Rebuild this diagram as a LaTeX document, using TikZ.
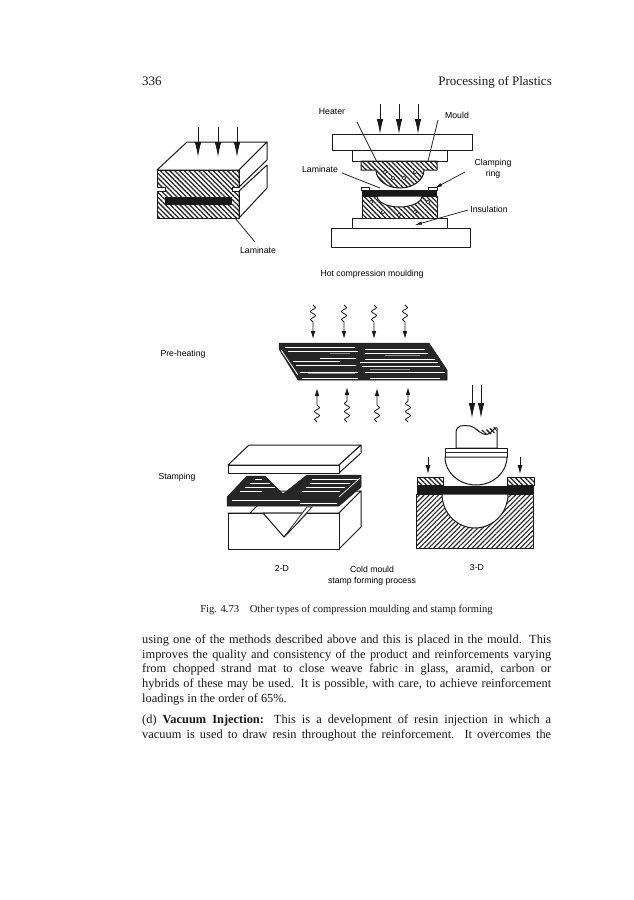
\documentclass[tikz,border=0pt]{standalone}
\usepackage{fontspec}
\setmainfont{Liberation Serif}
\newfontfamily\lab{Liberation Sans}
\usetikzlibrary{patterns,patterns.meta,arrows.meta,decorations.pathmorphing}
\newcommand{\jline}[1]{\makebox[409pt][s]{#1}}
\tikzset{
  x=1pt,y=-1pt,
  lbl/.style={font=\lab\fontsize{8.7}{10}\selectfont,text=black,inner sep=0,align=center},
  body/.style={font=\fontsize{12.4}{12}\selectfont,inner sep=0,anchor=base west,text=black!90},
  ln/.style={line width=0.8pt,black!85},
  box/.style={draw=black!90,line width=1pt,fill=white,line join=round},
  hat/.style={pattern={Lines[angle=135,distance=3.4pt,line width=1.3pt]},pattern color=black!85},
  hatb/.style={pattern={Lines[angle=45,distance=3.4pt,line width=1.1pt]},pattern color=black!85},
  bigar/.style={line width=0.8pt,-{Latex[length=15pt,width=6.5pt]},black!90},
  midar/.style={line width=0.8pt,-{Latex[length=9pt,width=5pt]},black!90},
  thinar/.style={line width=0.7pt,-{Latex[length=7pt,width=3.5pt]},black!90},
  wav/.style={line width=0.8pt,black!90,-{Latex[length=8pt,width=4.5pt]},decorate,decoration={snake,segment length=8pt,amplitude=2.5pt,post length=14pt}},
  pl/.style={fill=black!85,draw=black!90,line width=0.5pt},
  stripe/.style={draw=white,line width=0.4pt},
  gstripe/.style={draw=black!45,line width=0.6pt}
}
\begin{document}
\begin{tikzpicture}
\useasboundingbox (0,0) rectangle (634,900);
\fill[white] (0,0) rectangle (634,900);
% header
\node[body,font=\fontsize{13}{13}\selectfont] (pg) at (142,85) {336};
\node[body,anchor=base east,font=\fontsize{13}{13}\selectfont] (ttl) at (552,85) {Processing of Plastics};
% LEFT BLOCK
\draw[box] (157,170)--(187,142)--(267,142)--(239,170)--cycle;
\draw[box] (239,170)--(267,142)--(267,160)--(239,187)--cycle;
\draw[box] (239,191)--(267,165)--(267,188)--(239,218)--cycle;
\draw[box,hat] (157,170)--(239,170)--(239,187)--(232,187)--(232,191)--(239,191)--(239,218)--(157,218)--(157,191)--(165,191)--(165,187)--(157,187)--cycle;
\fill[black!90] (165,197) rectangle (232,205);
\foreach \x in {198,218,237}{\draw[bigar] (\x,127)--(\x,157);}
\node[lbl] (lam1) at (258,250) {Laminate};
\coordinate (lam1a) at (235,218);
\draw[ln] (lam1a)--(255,242);
% HOT COMPRESSION
\foreach \x in {380,399,418}{\draw[bigar] (\x,104)--(\x,134);}
\draw[box] (332,134) rectangle (472,150);
\draw[box] (352,150) rectangle (447,161);
\draw[box,hat] (361,161)--(437,161)--(437,170)--(424,170) arc[start angle=0,end angle=180,x radius=24,y radius=18] --(361,170)--cycle;
\foreach \a/\b in {385/172,393/178,404/178,415/172}{\draw[fill=white,line width=.5pt] (\a,\b) circle (1.8);}
\draw[box,hat] (362,196) rectangle (437,218);
\draw[box] (377,196) arc[start angle=180,end angle=0,x radius=22.5,y radius=11] --cycle;
\foreach \a/\b in {371/202,383/212,399/215,415/212,428/202}{\draw[fill=white,line width=.5pt] (\a,\b) circle (1.8);}
\fill[black!90] (362,190) rectangle (437,196);
\draw[box,line width=.7pt] (361,187) rectangle (369,190);
\draw[box,line width=.7pt] (428,187) rectangle (437,190);
\draw[box] (352,218) rectangle (447,228);
\draw[box] (331,228) rectangle (470,247);
\node[lbl] (heater) at (332,112) {Heater};
\node[lbl] (mould) at (457,115) {Mould};
\node[lbl] (lam2) at (320,169) {Laminate};
\node[lbl] (clamp) at (493,169) {Clamping\\[1pt]ring};
\node[lbl] (ins) at (489,209) {Insulation};
\node[lbl] (hcm) at (372,274) {Hot compression moulding};
\coordinate (ha) at (357,122); \coordinate (hb) at (377,162);
\coordinate (ma) at (438,120); \coordinate (mb) at (428,161);
\coordinate (lb) at (380,188); \coordinate (la) at (342,173);
\draw[ln] (ha)--(hb);
\draw[ln] (ma)--(mb);
\draw[ln] (la)--(lb);
\coordinate (ca) at (465,172); \coordinate (cb) at (435,188);
\coordinate (ia) at (468,210); \coordinate (ib) at (415,225);
\draw[thinar] (ca)--(cb);
\draw[thinar] (ia)--(ib);
% PRE-HEATING
\node[lbl] (ph) at (183,354) {Pre-heating};
\draw[pl] (279,343)--(429,343)--(447,370)--(447,380)--(298,380)--(279,349)--cycle;
\draw[white,line width=.8pt] (281,350)--(298,375);
\foreach \a/\b/\y in {285/355/347,365/425/349,288/358/351,365/428/353,320/356/358,365/435/359,293/340/361,360/438/362,296/356/365,362/440/366,300/358/372,365/445/372,302/358/378,370/440/378}{\draw[stripe] (\a,\y)--(\b,\y);}
\foreach \a/\b/\y in {330/350/353,385/420/355,370/410/369,308/355/373}{\draw[gstripe] (\a,\y)--(\b,\y);}
\foreach \x in {313,344,374,405}{\draw[wav] (\x,305)--(\x,339);}
\foreach \x/\e in {317/388,347/387,377/388,408/387}{\draw[wav] (\x,422)--(\x,\e);}
% STAMPING 2-D
\node[lbl] (st) at (177,477) {Stamping};
\draw[box] (228,513)--(250,513)--(272,491)--(361,491)--(339,513)--cycle;
\draw[box] (339,513)--(361,491)--(361,527)--(339,549)--cycle;
\draw[box] (228,513) rectangle (339,549);
\draw[box] (263,513)--(284,537)--(307,513)--cycle;
\draw[ln,fill=white] (284,537)--(307,507)--(312,507)--(291,530)--cycle;
\draw[pl] (227,497)--(247,476)--(265,476)--(283,494)--(307,475)--(361,475)--(361,487)--(339,506)--(227,506)--cycle;
\foreach \a/\b/\y in {255/262/479,250/270/483,245/275/487,240/262/491,312/358/479,310/350/483,306/345/487,302/340/491,232/300/500,300/337/503}{\draw[stripe] (\a,\y)--(\b,\y);}
\draw[white,line width=.6pt] (339,497)--(360,478);
\draw[box] (228,465)--(249,445)--(361,445)--(339,465)--cycle;
\draw[box] (339,465)--(361,445)--(361,453)--(339,473)--cycle;
\draw[box] (228,465) rectangle (339,473);
\node[lbl] (twod) at (282,568) {2-D};
\node[lbl] (cold) at (372,576) {Cold mould\\[1pt]stamp forming process};
% 3-D
\draw[bigar] (472,385)--(472,418);
\draw[bigar] (481,385)--(481,418);
\draw[box] (456,448)--(456,432) .. controls (457,425) and (462,425) .. (470,426) .. controls (478,428) and (480,436) .. (488,434) .. controls (492,433) and (495,426) .. (497,428)--(497,448)--cycle;
\fill[hat] (477,429) .. controls (482,432) and (490,428) .. (495,427) -- (497,431) .. controls (492,436) and (483,437) .. (477,429);
\draw[box] (445,448) rectangle (507,457);
\draw[ln] (445,452)--(507,452);
\draw[box] (445,457) arc[start angle=180,end angle=0,x radius=31,y radius=28] --cycle;
\draw[midar] (428,457)--(428,474);
\draw[midar] (520,457)--(520,474);
\draw[box,hat] (417,477) rectangle (443,485);
\draw[box,hat] (507,477) rectangle (534,485);
\draw[box,hatb] (416,494) rectangle (533,548);
\draw[box] (442,494) arc[start angle=180,end angle=0,x radius=33,y radius=34] --cycle;
\fill[black!90] (417,486) rectangle (534,494);
\node[lbl] (thd) at (477,567) {3-D};
% caption & text
\node[body,anchor=base,font=\fontsize{10.6}{12}\selectfont] (cap) at (346.5,612) {Fig. 4.73\quad Other types of compression moulding and stamp forming};
\node[body] (t1) at (142,643) {\jline{using one of the methods described above and this is placed in the mould. This}};
\node[body] (t2) at (142,658) {\jline{improves the quality and consistency of the product and reinforcements varying}};
\node[body] (t3) at (142,672) {\jline{from chopped strand mat to close weave fabric in glass, aramid, carbon or}};
\node[body] (t4) at (142,687) {\jline{hybrids of these may be used. It is possible, with care, to achieve reinforcement}};
\node[body] (t5) at (142,702) {loadings in the order of 65\%.};
\node[body] (t6) at (142,723) {\jline{(d) \textbf{Vacuum Injection:} This is a development of resin injection in which a}};
\node[body] (t7) at (142,738) {\jline{vacuum is used to draw resin throughout the reinforcement. It overcomes the}};
\end{tikzpicture}
\end{document}
